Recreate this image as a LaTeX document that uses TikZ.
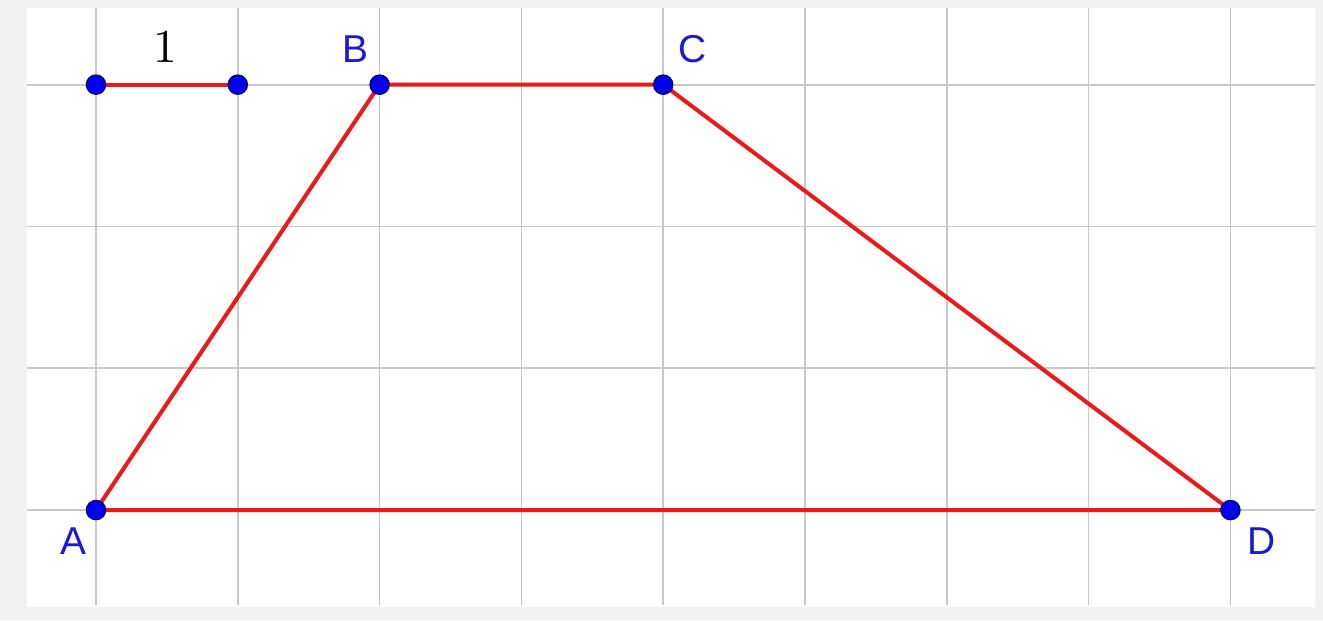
\documentclass[tikz,border=0pt]{standalone}
\usepackage{fontspec}
\setsansfont{Liberation Sans}
\usepackage{tikz}
\usetikzlibrary{calc, positioning}
\usepackage{xcolor}
\definecolor{gridgray}{RGB}{200,200,200}
\definecolor{framegray}{RGB}{242,242,242}
\definecolor{pointblue}{RGB}{0,0,235}
\definecolor{labelblue}{RGB}{25,25,215}
\definecolor{segred}{RGB}{235,25,25}
\tikzset{
  gridline/.style={draw=gridgray, line width=0.34pt},
  segline/.style={draw=segred, line width=0.8pt},
  ptdot/.style={circle, fill=pointblue, draw=pointblue!50!black, line width=0.25pt,
    inner sep=0pt, minimum size=1.36mm},
  ptlabel/.style={text=labelblue, font=\sffamily\fontsize{7.8}{9}\selectfont, inner sep=0pt},
  unitlabel/.style={font=\fontsize{9.5}{11}\selectfont, inner sep=0pt}
}

\begin{document}
\begin{tikzpicture}
  \useasboundingbox (-0.677,-0.776) rectangle (8.653,3.597);
  % frame and sheet
  \fill[framegray] (-0.677,-0.776) rectangle (8.653,3.597);
  \fill[white] (-0.487,-0.684) rectangle (8.597,3.54);

  % grid
  \foreach \x in {0,...,8}
    \draw[gridline] (\x,-0.67) -- (\x,3.54);
  \foreach \y in {0,...,3}
    \draw[gridline] (-0.487,\y) -- (8.597,\y);

  % unit segment
  \coordinate (u1) at (0,3);
  \coordinate (u2) at (1,3);
  \draw[segline] (u1) -- (u2);
  \node[unitlabel] (one) at ($(u1)!0.5!(u2)+(-0.01,0.27)$) {1};

  % trapezoid
  \coordinate (A) at (0,0);
  \coordinate (B) at (2,3);
  \coordinate (C) at (4,3);
  \coordinate (D) at (8,0);
  \draw[segline] (A) -- (B) -- (C) -- (D) -- cycle;

  % points
  \foreach \p in {u1,u2,A,B,C,D}
    \node[ptdot] (dot\p) at (\p) {};

  % labels
  \node[ptlabel] (labA) at ($(A)+(-0.16,-0.22)$) {A};
  \node[ptlabel] (labB) at ($(B)+(-0.17,0.25)$) {B};
  \node[ptlabel] (labC) at ($(C)+(0.21,0.25)$) {C};
  \node[ptlabel] (labD) at ($(D)+(0.22,-0.22)$) {D};
\end{tikzpicture}
\end{document}
